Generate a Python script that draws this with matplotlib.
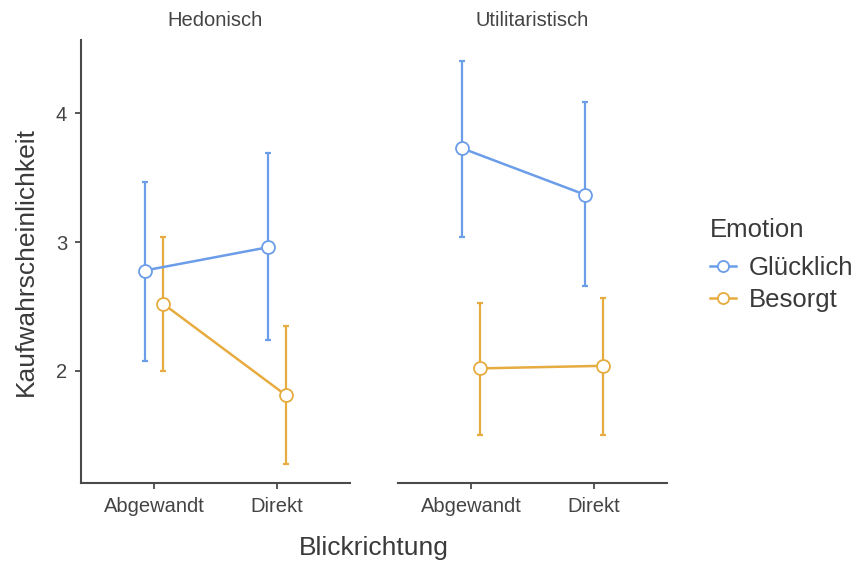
import matplotlib
matplotlib.use("Agg")
import matplotlib.pyplot as plt
from matplotlib.lines import Line2D
import numpy as np

plt.rcParams['font.family'] = ['Liberation Sans', 'DejaVu Sans']

# Facets, x categories and groups
facets = ["Hedonisch", "Utilitaristisch"]
blick = ["Abgewandt", "Direkt"]
emotions = ["Glücklich", "Besorgt"]

# Means and confidence bounds, per facet, for each emotion over [Abgewandt, Direkt]
hed_glueck_mean = [2.78, 2.96]
hed_glueck_low = [2.08, 2.24]
hed_glueck_high = [3.47, 3.69]
hed_besorgt_mean = [2.52, 1.81]
hed_besorgt_low = [2.00, 1.28]
hed_besorgt_high = [3.04, 2.35]

util_glueck_mean = [3.73, 3.37]
util_glueck_low = [3.04, 2.66]
util_glueck_high = [4.41, 4.09]
util_besorgt_mean = [2.02, 2.04]
util_besorgt_low = [1.50, 1.50]
util_besorgt_high = [2.53, 2.57]

yticks = [2, 3, 4]

data = {
    "Hedonisch": {
        "Glücklich": (hed_glueck_mean, hed_glueck_low, hed_glueck_high),
        "Besorgt": (hed_besorgt_mean, hed_besorgt_low, hed_besorgt_high),
    },
    "Utilitaristisch": {
        "Glücklich": (util_glueck_mean, util_glueck_low, util_glueck_high),
        "Besorgt": (util_besorgt_mean, util_besorgt_low, util_besorgt_high),
    },
}

colors = {"Glücklich": "#6B9DE8", "Besorgt": "#E6AC40"}
dodge = {"Glücklich": -0.076, "Besorgt": 0.076}

text_col = "#3a3a3a"
tick_col = "#444444"
axis_col = "#4a4a4a"

W, H = 858, 562
fig = plt.figure(figsize=(W / 100, H / 100), dpi=100)

panel_left = [81, 398]
panel_w = 269
panel_top, panel_bottom = 40, 483

axes = []
for i, facet in enumerate(facets):
    ax = fig.add_axes([panel_left[i] / W, 1 - panel_bottom / H,
                       panel_w / W, (panel_bottom - panel_top) / H])
    axes.append(ax)
    xs = np.arange(len(blick))
    for emo in emotions:
        mean, low, high = (np.array(v) for v in data[facet][emo])
        x = xs + dodge[emo]
        c = colors[emo]
        ax.errorbar(x, mean, yerr=[mean - low, high - mean], fmt='none',
                    ecolor=c, elinewidth=1.6, capsize=2.5, capthick=1.6, zorder=2)
        ax.plot(x, mean, color=c, lw=1.8, zorder=3)
        ax.plot(x, mean, 'o', ms=9.3, mfc='white', mec=c, mew=1.3, zorder=4)

    ax.set_xlim(-0.595, 1.595)
    ax.set_ylim(1.13, 4.57)
    ax.set_xticks(xs)
    ax.set_xticklabels(blick)
    ax.set_yticks(yticks)
    ax.set_yticklabels([str(t) for t in yticks])
    for s in ["top", "right"]:
        ax.spines[s].set_visible(False)
    ax.spines["bottom"].set_color(axis_col)
    ax.spines["bottom"].set_linewidth(1.5)
    ax.spines["left"].set_color(axis_col)
    ax.spines["left"].set_linewidth(1.5)
    ax.tick_params(axis='both', colors=axis_col, labelcolor=tick_col,
                   labelsize=14.5, length=4, width=1.3, pad=6)
    if i == 1:
        ax.spines["left"].set_visible(False)
        ax.tick_params(axis='y', left=False, labelleft=False)
    ax.set_facecolor('none')
    ax.text(0.5, 1 + 20 / (panel_bottom - panel_top), facet,
            transform=ax.transAxes, ha='center', va='center',
            fontsize=14.5, color=tick_col)

fig.text(26 / W, 1 - 261 / H, "Kaufwahrscheinlichkeit", rotation=90,
         ha='center', va='center', fontsize=19, color=text_col)
fig.text(374 / W, 1 - 548 / H, "Blickrichtung", ha='center', va='center',
         fontsize=19, color=text_col)

handles = [Line2D([0], [0], color=colors[e], lw=1.8, marker='o', ms=8,
                  mfc='white', mec=colors[e], mew=1.3) for e in emotions]
leg = fig.legend(handles, emotions, title="Emotion", loc='upper left',
                 bbox_to_anchor=(700 / W, 1 - 208 / H), frameon=False,
                 fontsize=18.5, title_fontsize=18.5, handlelength=1.0,
                 handletextpad=0.5, labelspacing=0.31, borderaxespad=0,
                 alignment='left')
leg._legend_box.sep = 10
for t in leg.get_texts():
    t.set_color(text_col)
leg.get_title().set_color(text_col)

fig.savefig("out.png", dpi=100, facecolor='white')
